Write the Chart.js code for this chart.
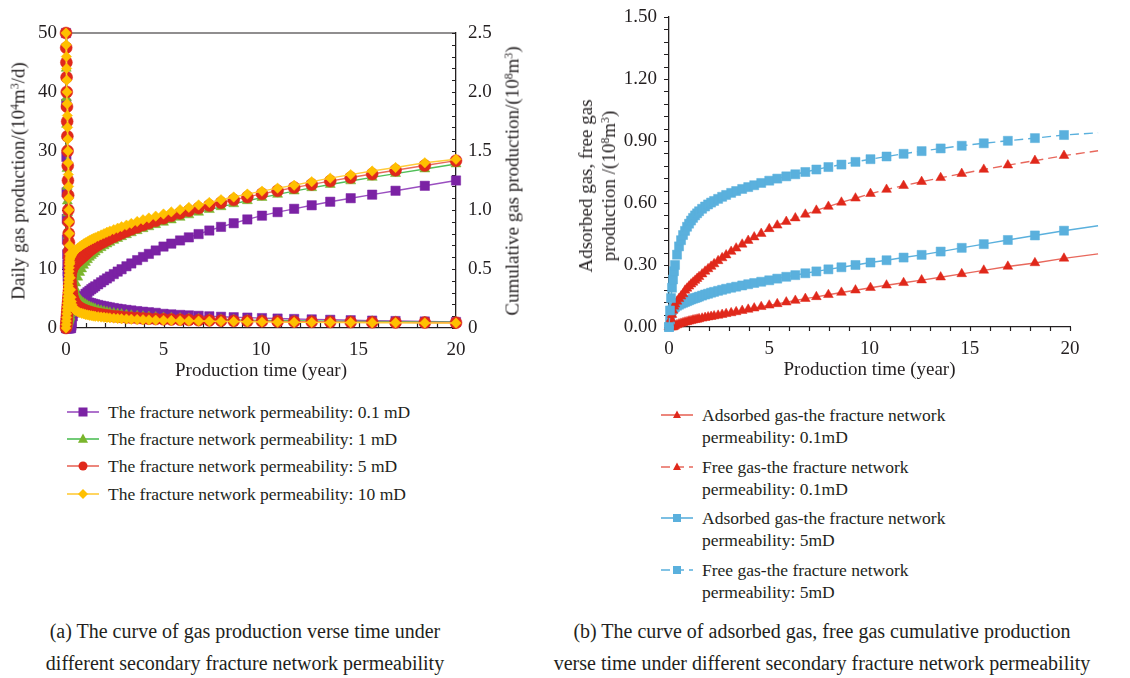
<!DOCTYPE html>
<html>
<head>
<meta charset="utf-8">
<script src="https://cdn.jsdelivr.net/npm/chart.js@4.4.1/dist/chart.umd.min.js"></script>
<style>
body { margin: 0; background: #fff; }
#page { position: relative; width: 1130px; height: 678px; overflow: hidden; font-family: 'Liberation Serif', serif; color: #231f20; }
canvas { position: absolute; top: 0; }
.vt { position: absolute; transform: translate(-50%, -50%) rotate(-90deg); white-space: nowrap; font-size: 19px; line-height: 23px; text-align: center; }
sup { font-size: 0.62em; vertical-align: 0.55em; line-height: 0; }
.item { position: absolute; display: flex; align-items: flex-start; font-size: 17.5px; line-height: 22px; white-space: nowrap; }
.item svg { flex: none; margin-right: 8px; }
.cap { position: absolute; text-align: center; font-size: 20px; line-height: 32px; white-space: nowrap; }
</style>
</head>
<body>
<div id="page">
  <canvas id="chartA" width="560" height="390" style="left:0"></canvas>
  <canvas id="chartB" width="560" height="390" style="left:570px"></canvas>
  <div class="vt" style="left:18px; top:181px">Daily gas production/(10<sup>4</sup>m<sup>3</sup>/d)</div>
  <div class="vt" style="left:512px; top:181px">Cumulative gas production/(10<sup>8</sup>m<sup>3</sup>)</div>
  <div class="vt" style="left:597px; top:186px">Adsorbed gas, free gas<br>production /(10<sup>8</sup>m<sup>3</sup>)</div>
  <div id="legA"></div>
  <div id="legB"></div>
  <div class="cap" style="left:0; width:490px; top:615px">(a) The curve of gas production verse time under<br>different secondary fracture network permeability</div>
  <div class="cap" style="left:522px; width:600px; top:615px">(b) The curve of adsorbed gas, free gas cumulative production<br>verse time under different secondary fracture network permeability</div>
</div>
<script>
// ---- panel (a): time in years, daily rate (10^4 m3/d), cumulative (10^8 m3)
const timeA = [
  0, 0.01, 0.02, 0.03, 0.04, 0.05, 0.06, 0.07, 0.08, 0.09, 0.1, 0.11, 0.12, 0.13, 0.14, 0.15, 0.16, 0.17, 0.18, 0.19, 0.2,
  0.22, 0.24, 0.26, 0.28, 0.3, 0.35, 0.4, 0.45, 0.5,
  0.6, 0.7, 0.8, 0.9, 1.0, 1.1, 1.2, 1.3, 1.4, 1.5,
  1.65, 1.8, 1.95, 2.1, 2.25, 2.45, 2.65, 2.85, 3.1, 3.35, 3.65, 3.95, 4.25, 4.6,
  5.0, 5.4, 5.85, 6.3, 6.8, 7.35, 7.95, 8.6, 9.3, 10.05, 10.85, 11.7, 12.6, 13.55, 14.6, 15.7, 16.9, 18.4, 20.0
];
const dailyK01 = [
  50, 38, 29, 23, 18.5, 15, 12.5, 10.8, 9.6, 8.7, 8.0, 7.5, 7.1, 6.8, 6.55, 6.35, 6.2, 6.07, 5.96, 5.87, 5.8,
  5.72, 5.65, 5.59, 5.54, 5.5, 5.42, 5.36, 5.3, 5.25,
  5.05, 4.9, 4.75, 4.62, 4.5, 4.4, 4.3, 4.2, 4.11, 4.02,
  3.9, 3.79, 3.68, 3.58, 3.49, 3.38, 3.28, 3.18, 3.07, 2.97, 2.86, 2.76, 2.67, 2.57,
  2.4, 2.31, 2.22, 2.14, 2.06, 1.98, 1.9, 1.83, 1.76, 1.68, 1.6, 1.53, 1.46, 1.39, 1.32, 1.25, 1.18, 1.1, 1.02
];
const dailyK1 = [
  50, 44, 39, 34.5, 30.5, 27, 24, 21.5, 19.5, 18, 16.7, 15.6, 14.7, 13.9, 13.2, 12.6, 12.1, 11.6, 11.2, 10.8, 10.5,
  9.9, 9.4, 8.9, 8.5, 8.1, 7.4, 6.8, 6.3, 5.9,
  5.3, 4.85, 4.5, 4.22, 4.0, 3.8, 3.63, 3.48, 3.35, 3.23,
  3.08, 2.95, 2.83, 2.72, 2.62, 2.51, 2.41, 2.32, 2.22, 2.13, 2.04, 1.96, 1.89, 1.82,
  1.75, 1.69, 1.63, 1.58, 1.53, 1.48, 1.43, 1.38, 1.34, 1.3, 1.26, 1.22, 1.19, 1.16, 1.13, 1.1, 1.07, 1.04, 1.0
];
const dailyK5 = [
  50, 47.5, 45, 42.5, 40, 37.5, 35, 32.5, 30, 27.5, 25, 22.5, 20, 18, 16, 14.5, 13, 12, 11, 10.3, 9.7,
  8.7, 7.8, 7.0, 6.4, 5.9, 5.1, 4.6, 4.3, 4.05,
  3.7, 3.45, 3.25, 3.1, 2.95, 2.83, 2.72, 2.62, 2.54, 2.46,
  2.37, 2.28, 2.2, 2.13, 2.07, 2.0, 1.93, 1.87, 1.8, 1.74, 1.68, 1.63, 1.58, 1.53,
  1.48, 1.44, 1.4, 1.36, 1.32, 1.28, 1.24, 1.2, 1.17, 1.14, 1.11, 1.08, 1.05, 1.02, 1.0, 0.97, 0.95, 0.92, 0.9
];
const dailyK10 = [
  50, 48, 46, 44, 42, 40, 38, 36, 34, 32, 30, 28, 26, 24, 22, 20, 18, 16, 14, 12.5, 11,
  8.5, 6.5, 5.2, 4.5, 4.0, 3.6, 3.3, 3.1, 2.95,
  2.75, 2.6, 2.5, 2.4, 2.3, 2.22, 2.15, 2.09, 2.03, 1.98,
  1.92, 1.86, 1.81, 1.76, 1.72, 1.67, 1.62, 1.58, 1.53, 1.49, 1.45, 1.41, 1.37, 1.34,
  1.3, 1.27, 1.24, 1.21, 1.18, 1.15, 1.12, 1.09, 1.06, 1.03, 1.0, 0.98, 0.96, 0.94, 0.92, 0.9, 0.88, 0.86, 0.84
];
const cumK01 = [
  0, 0, 0, 0, 0, 0, 0, 0, 0, 0, 0, 0, 0, 0, 0, 0, 0, 0, 0, 0, 0,
  0, 0, 0, 0.02, 0.05, 0.1, 0.13, 0.155, 0.175,
  0.205, 0.23, 0.252, 0.272, 0.29, 0.303, 0.316, 0.329, 0.341, 0.353,
  0.37, 0.387, 0.404, 0.42, 0.436, 0.457, 0.478, 0.498, 0.523, 0.547, 0.575, 0.602, 0.628, 0.657,
  0.69, 0.715, 0.742, 0.768, 0.796, 0.826, 0.857, 0.888, 0.92, 0.952, 0.982, 1.01, 1.04, 1.07, 1.1, 1.13, 1.163, 1.205, 1.25
];
const cumK1 = [
  0, 0.005, 0.01, 0.015, 0.02, 0.025, 0.03, 0.035, 0.04, 0.045, 0.05, 0.055, 0.06, 0.065, 0.07, 0.075, 0.08, 0.085, 0.09, 0.095, 0.1,
  0.12, 0.14, 0.16, 0.18, 0.2, 0.25, 0.3, 0.34, 0.38,
  0.43, 0.47, 0.5, 0.53, 0.555, 0.578, 0.598, 0.614, 0.629, 0.643,
  0.662, 0.68, 0.696, 0.711, 0.725, 0.742, 0.758, 0.773, 0.79, 0.806, 0.824, 0.841, 0.857, 0.875,
  0.895, 0.915, 0.937, 0.958, 0.98, 1.003, 1.027, 1.052, 1.078, 1.105, 1.132, 1.16, 1.188, 1.216, 1.246, 1.276, 1.308, 1.347, 1.39
];
const cumK5 = [
  0, 0.02, 0.04, 0.06, 0.08, 0.1, 0.12, 0.14, 0.16, 0.18, 0.2, 0.22, 0.24, 0.26, 0.28, 0.3, 0.32, 0.34, 0.36, 0.38, 0.4,
  0.43, 0.455, 0.475, 0.49, 0.5, 0.517, 0.53, 0.541, 0.551,
  0.566, 0.58, 0.595, 0.61, 0.625, 0.64, 0.655, 0.668, 0.68, 0.691,
  0.706, 0.72, 0.733, 0.746, 0.758, 0.774, 0.789, 0.803, 0.82, 0.836, 0.854, 0.872, 0.889, 0.908,
  0.93, 0.951, 0.973, 0.994, 1.016, 1.039, 1.062, 1.086, 1.111, 1.137, 1.163, 1.19, 1.217, 1.245, 1.275, 1.305, 1.337, 1.377, 1.418
];
const cumK10 = [
  0, 0.03, 0.06, 0.09, 0.12, 0.15, 0.18, 0.21, 0.24, 0.27, 0.3, 0.33, 0.36, 0.39, 0.42, 0.45, 0.48, 0.51, 0.54, 0.565, 0.585,
  0.598, 0.606, 0.613, 0.619, 0.624, 0.635, 0.645, 0.654, 0.662,
  0.676, 0.689, 0.701, 0.712, 0.722, 0.732, 0.741, 0.75, 0.758, 0.766,
  0.778, 0.789, 0.8, 0.811, 0.821, 0.834, 0.846, 0.858, 0.872, 0.886, 0.902, 0.917, 0.932, 0.948,
  0.966, 0.984, 1.003, 1.022, 1.043, 1.064, 1.087, 1.11, 1.135, 1.16, 1.185, 1.21, 1.24, 1.27, 1.3, 1.33, 1.36, 1.4, 1.43
];
const labelsA = [
  'The fracture network permeability: 0.1 mD',
  'The fracture network permeability: 1 mD',
  'The fracture network permeability: 5 mD',
  'The fracture network permeability: 10 mD'
];

// ---- panel (b): adsorbed / free gas cumulative (10^8 m3)
const timeB = [
  0, 0.05, 0.1, 0.15, 0.2, 0.25, 0.3, 0.4, 0.5, 0.6, 0.7, 0.8, 0.9,
  1.0, 1.1, 1.2, 1.3, 1.4, 1.5, 1.65, 1.8, 1.95, 2.1, 2.25, 2.45,
  2.65, 2.85, 3.1, 3.35, 3.65, 3.95, 4.25, 4.6, 5.0, 5.4, 5.85, 6.3,
  6.8, 7.35, 7.95, 8.6, 9.3, 10.05, 10.85, 11.7, 12.6, 13.55, 14.6, 15.7, 16.9, 18.25, 19.7, 21.4
];
const adsK01 = [
  0, 0, 0, 0, 0, 0.003, 0.006, 0.01, 0.014, 0.017, 0.02, 0.023, 0.025,
  0.028, 0.03, 0.033, 0.035, 0.037, 0.039, 0.042, 0.045, 0.048, 0.05, 0.053, 0.056,
  0.06, 0.064, 0.068, 0.073, 0.079, 0.085, 0.091, 0.098, 0.105, 0.112, 0.12, 0.128,
  0.137, 0.146, 0.156, 0.167, 0.178, 0.19, 0.202, 0.214, 0.227, 0.241, 0.257, 0.274, 0.293, 0.31, 0.332, 0.354
];
const freeK01 = [
  0, 0.02, 0.04, 0.06, 0.08, 0.1, 0.11, 0.124, 0.137, 0.149, 0.16, 0.177, 0.187,
  0.197, 0.207, 0.216, 0.225, 0.234, 0.243, 0.256, 0.269, 0.281, 0.293, 0.305, 0.32,
  0.334, 0.348, 0.365, 0.381, 0.4, 0.418, 0.435, 0.452, 0.475, 0.492, 0.51, 0.527,
  0.545, 0.564, 0.583, 0.603, 0.623, 0.645, 0.665, 0.684, 0.703, 0.722, 0.742, 0.762, 0.783, 0.805, 0.829, 0.853
];
const adsK5 = [
  0, 0.035, 0.065, 0.08, 0.088, 0.093, 0.097, 0.103, 0.108, 0.113, 0.117, 0.121, 0.125,
  0.129, 0.133, 0.137, 0.14, 0.143, 0.147, 0.152, 0.157, 0.161, 0.166, 0.17, 0.175,
  0.18, 0.185, 0.19, 0.195, 0.201, 0.207, 0.213, 0.219, 0.226, 0.234, 0.243, 0.251,
  0.26, 0.269, 0.279, 0.289, 0.3, 0.312, 0.323, 0.336, 0.349, 0.365, 0.383, 0.401, 0.421, 0.443, 0.466, 0.49
];
const freeK5 = [
  0, 0.08, 0.14, 0.19, 0.23, 0.27, 0.3, 0.35, 0.39, 0.42, 0.445, 0.465, 0.485,
  0.5, 0.515, 0.528, 0.54, 0.55, 0.56, 0.572, 0.583, 0.593, 0.602, 0.61, 0.62,
  0.63, 0.639, 0.649, 0.658, 0.668, 0.677, 0.686, 0.697, 0.708, 0.718, 0.729, 0.739,
  0.75, 0.762, 0.774, 0.786, 0.799, 0.812, 0.825, 0.838, 0.851, 0.864, 0.877, 0.889, 0.901, 0.914, 0.929, 0.94
];
const labelsB = [
  ['Adsorbed gas-the fracture network', 'permeability: 0.1mD'],
  ['Free gas-the fracture network', 'permeability: 0.1mD'],
  ['Adsorbed gas-the fracture network', 'permeability: 5mD'],
  ['Free gas-the fracture network', 'permeability: 5mD']
];

const ink = '#231f20';
const serif = "'Liberation Serif', serif";
const purple = { mark: '#7b22a4', line: '#9a4fc0' };
const green = { mark: '#7ab52c', line: '#4fbf57' };
const red = { mark: '#e0281b', line: '#e8685c' };
const yellow = { mark: '#ffc000', line: '#ffcb3a' };
const blue = { mark: '#5ab0dd', line: '#5ab0dd' };

const pts = (t, v) => t.map((x, i) => ({ x, y: v[i] }));

function series(label, t, v, col, style, r, axis, order, dash) {
  return {
    label,
    data: pts(t, v),
    yAxisID: axis,
    order,
    borderColor: col.line,
    borderWidth: 1.4,
    borderDash: dash || [],
    backgroundColor: col.mark,
    pointStyle: style,
    pointRadius: t.map(x => (x > 20 ? 0 : r)),
    pointBackgroundColor: col.mark,
    pointBorderColor: col.mark,
    pointBorderWidth: 0.5,
    tension: 0,
    clip: false
  };
}

// tick marks and frame, drawn from the scales
function axisMarks(marks, frameTop) {
  return {
    id: 'axisMarks',
    beforeDatasetsDraw(chart) {
      const { ctx, chartArea: a } = chart;
      ctx.save();
      ctx.strokeStyle = ink;
      ctx.lineWidth = 1.2;
      ctx.beginPath();
      if (frameTop) {
        ctx.moveTo(a.left, a.top);
        ctx.lineTo(a.right, a.top);
      }
      marks.forEach(m => {
        const s = chart.scales[m.id];
        const n = Math.round((s.max - s.min) / m.step);
        for (let i = 0; i <= n; i++) {
          const p = Math.round(s.getPixelForValue(s.min + i * m.step)) + 0.5;
          if (s.isHorizontal()) {
            ctx.moveTo(p, a.bottom);
            ctx.lineTo(p, a.bottom + m.len);
          } else {
            const x = s.position === 'right' ? a.right : a.left;
            ctx.moveTo(x, p);
            ctx.lineTo(x + m.len, p);
          }
        }
      });
      ctx.stroke();
      ctx.restore();
    }
  };
}

const tickFont = { family: serif, size: 19 };
const noGrid = { display: false };
const axisBorder = { display: true, color: ink, width: 1.3 };
const xTitle = { display: true, text: 'Production time (year)', color: ink, font: { family: serif, size: 19 }, padding: 0 };

Chart.defaults.animation = false;

new Chart(document.getElementById('chartA'), {
  type: 'line',
  data: {
    datasets: [
      series(labelsA[3], timeA, cumK10, yellow, 'rectRot', 5.2, 'y2', 0),
      series(labelsA[3], timeA, dailyK10, yellow, 'rectRot', 5.2, 'y', 0),
      series(labelsA[2], timeA, cumK5, red, 'circle', 6, 'y2', 1),
      series(labelsA[2], timeA, dailyK5, red, 'circle', 6, 'y', 1),
      series(labelsA[1], timeA, cumK1, green, 'triangle', 5.8, 'y2', 2),
      series(labelsA[1], timeA, dailyK1, green, 'triangle', 5.8, 'y', 2),
      series(labelsA[0], timeA, cumK01, purple, 'rect', 6.6, 'y2', 3),
      series(labelsA[0], timeA, dailyK01, purple, 'rect', 6.6, 'y', 3)
    ]
  },
  options: {
    responsive: false,
    layout: { padding: { top: 33, right: 38, bottom: 8, left: 8 } },
    plugins: { legend: { display: false }, tooltip: { enabled: false } },
    scales: {
      x: {
        type: 'linear', min: 0, max: 20,
        ticks: { stepSize: 5, color: ink, font: tickFont, padding: 3, maxRotation: 0 },
        grid: noGrid, border: axisBorder, title: xTitle,
        afterFit: s => { s.height = 54; }
      },
      y: {
        type: 'linear', position: 'left', min: 0, max: 50,
        ticks: { stepSize: 10, color: ink, font: tickFont, padding: 1 },
        grid: noGrid, border: axisBorder,
        afterFit: s => { s.width = 58; }
      },
      y2: {
        type: 'linear', position: 'right', min: 0, max: 2.5,
        ticks: { stepSize: 0.5, color: ink, font: tickFont, padding: 4 },
        grid: noGrid, border: axisBorder,
        afterFit: s => { s.width = 66; }
      }
    }
  },
  plugins: [axisMarks([
    { id: 'x', step: 1, len: -5 },
    { id: 'y', step: 10, len: -4 },
    { id: 'y2', step: 0.1, len: -4 }
  ], true)]
});

new Chart(document.getElementById('chartB'), {
  type: 'line',
  data: {
    datasets: [
      series(labelsB[3].join(' '), timeB, freeK5, blue, 'rect', 6.4, 'y', 0, [9, 5]),
      series(labelsB[1].join(' '), timeB, freeK01, red, 'triangle', 5.6, 'y', 1, [9, 5]),
      series(labelsB[2].join(' '), timeB, adsK5, blue, 'rect', 6.4, 'y', 2),
      series(labelsB[0].join(' '), timeB, adsK01, red, 'triangle', 5.6, 'y', 3)
    ]
  },
  options: {
    responsive: false,
    layout: { padding: { top: 17, right: 60, bottom: 9, left: 0 } },
    plugins: { legend: { display: false }, tooltip: { enabled: false } },
    scales: {
      x: {
        type: 'linear', min: 0, max: 20,
        ticks: { stepSize: 5, color: ink, font: tickFont, padding: 3, maxRotation: 0 },
        grid: noGrid, border: axisBorder, title: xTitle,
        afterFit: s => { s.height = 54; }
      },
      y: {
        type: 'linear', position: 'left', min: 0, max: 1.5,
        ticks: { stepSize: 0.3, color: ink, font: tickFont, padding: 4, callback: v => v.toFixed(2) },
        grid: noGrid, border: axisBorder,
        afterFit: s => { s.width = 99; }
      }
    }
  },
  plugins: [axisMarks([
    { id: 'x', step: 1, len: 4 },
    { id: 'y', step: 0.06, len: -5 }
  ], false)]
});

// ---- legends (line + marker icons)
function icon(col, shape, size, dashed) {
  const c = 11, h = size;
  let m = '';
  if (shape === 'rect') m = `<rect x="${17 - h}" y="${c - h}" width="${2 * h}" height="${2 * h}" fill="${col.mark}"/>`;
  if (shape === 'circle') m = `<circle cx="17" cy="${c}" r="${h}" fill="${col.mark}"/>`;
  if (shape === 'triangle') m = `<polygon points="17,${c - h * 1.1} ${17 + h},${c + h * 0.75} ${17 - h},${c + h * 0.75}" fill="${col.mark}"/>`;
  if (shape === 'rectRot') m = `<polygon points="17,${c - h} ${17 + h},${c} 17,${c + h} ${17 - h},${c}" fill="${col.mark}"/>`;
  const dash = dashed ? ' stroke-dasharray="9 5"' : '';
  return `<svg width="34" height="22"><line x1="1" y1="${c}" x2="33" y2="${c}" stroke="${col.line}" stroke-width="1.6"${dash}/>${m}</svg>`;
}

const legA = [
  [purple, 'rect', 4.5], [green, 'triangle', 5], [red, 'circle', 4.5], [yellow, 'rectRot', 5]
];
const topsA = [401, 428, 455, 483];
document.getElementById('legA').innerHTML = legA.map((l, i) =>
  `<div class="item" style="left:66px; top:${topsA[i]}px">${icon(l[0], l[1], l[2])}<span>${labelsA[i]}</span></div>`
).join('');

const legB = [
  [red, 'triangle', 4, false], [red, 'triangle', 4, true], [blue, 'rect', 4, false], [blue, 'rect', 4, true]
];
const topsB = [404, 456, 507, 559];
document.getElementById('legB').innerHTML = legB.map((l, i) =>
  `<div class="item" style="left:660px; top:${topsB[i]}px">${icon(l[0], l[1], l[2], l[3])}<span>${labelsB[i][0]}<br>${labelsB[i][1]}</span></div>`
).join('');
</script>
</body>
</html>
